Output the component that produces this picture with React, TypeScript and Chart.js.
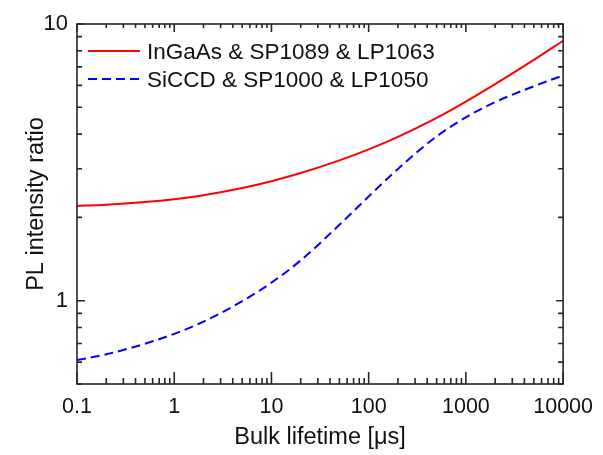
import React, { useEffect, useRef } from "react";
import { Chart, registerables } from "chart.js";

Chart.register(...registerables);

const lifetimes = [0.1, 0.2, 0.5, 1, 2, 5, 10, 20, 50, 100, 200, 500, 1000, 2000, 5000, 10000];
const ingaasRatio = [2.2, 2.221, 2.272, 2.328, 2.406, 2.554, 2.704, 2.893, 3.215, 3.524, 3.909, 4.579, 5.243, 6.063, 7.416, 8.7];
const siccdRatio = [0.61, 0.64, 0.699, 0.759, 0.84, 0.996, 1.162, 1.399, 1.88, 2.38, 2.995, 3.924, 4.601, 5.221, 5.957, 6.52];
const seriesLabels = ["InGaAs & SP1089 & LP1063", "SiCCD & SP1000 & LP1050"];
const xMajorTicks = [0.1, 1, 10, 100, 1000, 10000];
const yMajorTicks = [1, 10];

const FONT = "'Liberation Sans', Arial, sans-serif";
const AXIS_COLOR = "#262626";

const framePlugin = {
  id: "framePlugin",
  afterDraw(chart: any) {
    const { ctx, chartArea } = chart;
    const { left, right, top, bottom } = chartArea;
    const xs = chart.scales.x;
    const ys = chart.scales.y;
    ctx.save();
    ctx.strokeStyle = AXIS_COLOR;
    ctx.lineWidth = 1.6;
    ctx.strokeRect(left, top, right - left, bottom - top);
    // x ticks
    for (let d = -1; d <= 4; d++) {
      for (let m = 1; m <= 9; m++) {
        const v = m * Math.pow(10, d);
        if (v < 0.1 || v > 10000) continue;
        const px = xs.getPixelForValue(v);
        const major = m === 1;
        ctx.beginPath();
        ctx.moveTo(px, bottom);
        ctx.lineTo(px, bottom - (major ? 12 : 6));
        ctx.moveTo(px, top);
        ctx.lineTo(px, top + (major ? 8 : 4));
        ctx.stroke();
      }
    }
    // y ticks
    for (let d = -1; d <= 1; d++) {
      for (let m = 1; m <= 9; m++) {
        const v = m * Math.pow(10, d);
        if (v < 0.5 || v > 10) continue;
        const py = ys.getPixelForValue(v);
        const major = m === 1;
        ctx.beginPath();
        ctx.moveTo(left, py);
        ctx.lineTo(left + (major ? 8 : 5), py);
        ctx.moveTo(right, py);
        ctx.lineTo(right - (major ? 7 : 5), py);
        ctx.stroke();
      }
    }
    // legend
    const items = [
      { label: seriesLabels[0], color: "#ff0000", dash: [] as number[], y: top + 27 },
      { label: seriesLabels[1], color: "#0000ff", dash: [9, 5], y: top + 55 },
    ];
    ctx.font = `22.5px ${FONT}`;
    ctx.textBaseline = "alphabetic";
    ctx.textAlign = "left";
    for (const it of items) {
      ctx.beginPath();
      ctx.strokeStyle = it.color;
      ctx.lineWidth = 2;
      ctx.setLineDash(it.dash);
      ctx.moveTo(left + 11, it.y);
      ctx.lineTo(left + 63, it.y);
      ctx.stroke();
      ctx.setLineDash([]);
      ctx.fillStyle = "#111";
      ctx.fillText(it.label, left + 70, it.y + 8);
    }
    ctx.restore();
  },
};

export default function App() {
  const ref = useRef<HTMLCanvasElement | null>(null);
  useEffect(() => {
    document.body.style.margin = "0";
    const chart = new Chart(ref.current as HTMLCanvasElement, {
      type: "line",
      data: {
        datasets: [
          {
            label: seriesLabels[0],
            data: lifetimes.map((x, i) => ({ x, y: ingaasRatio[i] })),
            borderColor: "#ff0000",
            borderWidth: 2,
            pointRadius: 0,
            cubicInterpolationMode: "monotone",
            fill: false,
          },
          {
            label: seriesLabels[1],
            data: lifetimes.map((x, i) => ({ x, y: siccdRatio[i] })),
            borderColor: "#0000ff",
            borderWidth: 2,
            borderDash: [9, 5],
            pointRadius: 0,
            cubicInterpolationMode: "monotone",
            fill: false,
          },
        ],
      },
      options: {
        animation: false,
        responsive: false,
        maintainAspectRatio: false,
        events: [],
        layout: { padding: { left: 0, right: 37, top: 24, bottom: 0 } },
        plugins: { legend: { display: false }, tooltip: { enabled: false } },
        scales: {
          x: {
            type: "logarithmic",
            min: 0.1,
            max: 10000,
            grid: { display: false, drawTicks: false },
            border: { display: false },
            afterBuildTicks: (s: any) => {
              s.ticks = xMajorTicks.map((v) => ({ value: v, major: true }));
            },
            afterFit: (s: any) => {
              s.height = 71;
            },
            ticks: {
              autoSkip: false,
              maxRotation: 0,
              padding: 10,
              color: "#111",
              font: { family: FONT, size: 21.5 },
              callback: (v: any) => String(v),
            },
            title: {
              display: true,
              text: "Bulk lifetime [μs]",
              color: "#111",
              font: { family: FONT, size: 23.5 },
              padding: { top: 0, bottom: 3 },
            },
          },
          y: {
            type: "logarithmic",
            min: 0.5,
            max: 10,
            grid: { display: false, drawTicks: false },
            border: { display: false },
            afterBuildTicks: (s: any) => {
              s.ticks = yMajorTicks.map((v) => ({ value: v, major: true }));
            },
            afterFit: (s: any) => {
              s.width = 77;
            },
            ticks: {
              autoSkip: false,
              padding: 9,
              color: "#111",
              font: { family: FONT, size: 22 },
              callback: (v: any) => String(v),
            },
            title: {
              display: true,
              text: "PL intensity ratio",
              color: "#111",
              font: { family: FONT, size: 23.5 },
              padding: { top: 22, bottom: 0 },
            },
          },
        },
      },
      plugins: [framePlugin],
    } as any);
    return () => chart.destroy();
  }, []);
  return (
    <div style={{ position: "absolute", left: 0, top: 0, width: 603, height: 455 }}>
      <canvas ref={ref} width={603} height={455} style={{ display: "block" }} />
    </div>
  );
}
